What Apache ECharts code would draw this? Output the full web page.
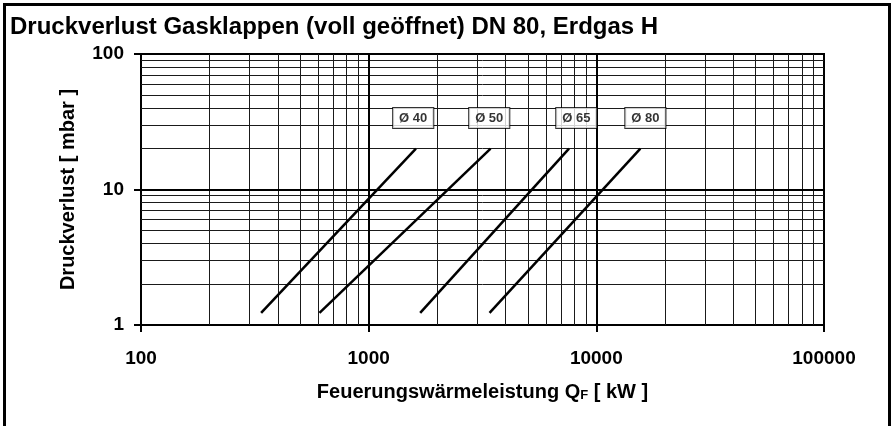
<!DOCTYPE html>
<html>
<head>
<meta charset="utf-8">
<script src="https://cdn.jsdelivr.net/npm/echarts@6/dist/echarts.min.js"></script>
<style>
html,body{margin:0;padding:0;background:#fff;}
#chart{width:891px;height:426px;}
</style>
</head>
<body>
<div id="chart"></div>
<script>
// ---- data ----
const diameters = ['Ø 40', 'Ø 50', 'Ø 65', 'Ø 80'];
const qStart = [337, 608, 1684, 3396];        // kW at the lower end of each line
const qEnd = [1613, 3432, 7586, 15610];       // kW at the upper end
const dpStart = [1.23, 1.23, 1.23, 1.23];     // mbar at the lower end
const dpEnd = [20, 20, 20, 20];               // mbar at the upper end
const labelQ = [1569, 3385, 8166, 16424];     // label anchor (kW)
const labelDp = [33.7, 33.7, 33.7, 33.7];     // label anchor (mbar)
const xTicks = [100, 1000, 10000, 100000];
const yTicks = [1, 10, 100];

// minor grid values (2..9 per decade)
function minors(ticks) {
  const out = [];
  for (let i = 0; i < ticks.length - 1; i++) {
    for (let k = 2; k <= 9; k++) out.push(ticks[i] * k);
  }
  return out;
}
const xMinor = minors(xTicks);
const yMinor = minors(yTicks);
const xMajorInner = xTicks.slice(1, -1);
const yMajorInner = yTicks.slice(1, -1);

const FONT = '"Liberation Sans", Arial, sans-serif';

const gridLines = {
  type: 'line',
  data: [],
  z: 1,
  silent: true,
  markLine: {
    silent: true,
    symbol: ['none', 'none'],
    label: { show: false },
    animation: false,
    data: [
      ...xMinor.map(v => ({ xAxis: v, lineStyle: { color: '#1a1a1a', width: 1, type: 'solid' } })),
      ...yMinor.map(v => ({ yAxis: v, lineStyle: { color: '#1a1a1a', width: 1, type: 'solid' } })),
      ...xMajorInner.map(v => ({ xAxis: v, lineStyle: { color: '#000', width: 2, type: 'solid' } })),
      ...yMajorInner.map(v => ({ yAxis: v, lineStyle: { color: '#000', width: 2, type: 'solid' } }))
    ]
  }
};

const lineSeries = diameters.map((d, i) => ({
  name: d,
  type: 'line',
  z: 5,
  symbol: 'none',
  animation: false,
  lineStyle: { color: '#000', width: 2.5 },
  data: [[qStart[i], dpStart[i]], [qEnd[i], dpEnd[i]]]
}));

const labelSeries = {
  type: 'scatter',
  z: 10,
  symbolSize: 0,
  animation: false,
  silent: true,
  data: diameters.map((d, i) => ({ name: d, value: [labelQ[i], labelDp[i]] })),
  label: {
    show: true,
    position: 'inside',
    formatter: p => p.name,
    fontFamily: FONT,
    fontWeight: 'bold',
    fontSize: 13,
    color: '#000',
    backgroundColor: '#fff',
    borderColor: '#000',
    borderWidth: 1,
    padding: [4, 6, 3, 6]
  }
};

const chart = echarts.init(document.getElementById('chart'), null, { renderer: 'canvas' });
chart.setOption({
  backgroundColor: '#fff',
  animation: false,
  textStyle: { fontFamily: FONT },
  title: {
    text: 'Druckverlust Gasklappen (voll geöffnet) DN 80, Erdgas H',
    left: 5,
    top: 10,
    textStyle: { fontFamily: FONT, fontWeight: 'bold', fontSize: 24, color: '#000' }
  },
  graphic: [{
    type: 'rect',
    shape: { x: 4.5, y: 4.5, width: 885, height: 440 },
    style: { fill: 'none', stroke: '#000', lineWidth: 3 },
    silent: true,
    z: 100
  }],
  grid: {
    left: 141, right: 67, top: 54, bottom: 101,
    show: true, borderColor: '#000', borderWidth: 2, backgroundColor: 'transparent'
  },
  xAxis: {
    type: 'log',
    logBase: 10,
    min: 100,
    max: 100000,
    name: '{a|Feuerungswärmeleistung Q}{s|F}{a| [ kW ]}',
    nameLocation: 'middle',
    nameGap: 57,
    nameTextStyle: {
      rich: {
        a: { fontFamily: FONT, fontWeight: 'bold', fontSize: 20, color: '#000' },
        s: { fontFamily: FONT, fontWeight: 'bold', fontSize: 13, color: '#000', verticalAlign: 'bottom', padding: [7, 0, 0, 0] }
      }
    },
    axisLine: { show: true, lineStyle: { color: '#000', width: 2 } },
    axisTick: { show: true, inside: false, length: 7, lineStyle: { color: '#000', width: 2 } },
    axisLabel: {
      margin: 24,
      fontFamily: FONT, fontWeight: 'bold', fontSize: 19, color: '#000',
      formatter: v => String(Math.round(v))
    },
    splitLine: { show: false },
    minorTick: { show: false },
    minorSplitLine: { show: false }
  },
  yAxis: {
    type: 'log',
    logBase: 10,
    min: 1,
    max: 100,
    name: 'Druckverlust [ mbar ]',
    nameLocation: 'middle',
    nameGap: 63,
    nameTextStyle: { fontFamily: FONT, fontWeight: 'bold', fontSize: 20, color: '#000' },
    axisLine: { show: true, lineStyle: { color: '#000', width: 2 } },
    axisTick: { show: true, inside: false, length: 7, lineStyle: { color: '#000', width: 2 } },
    axisLabel: {
      margin: 17,
      fontFamily: FONT, fontWeight: 'bold', fontSize: 19, color: '#000',
      formatter: v => String(Math.round(v))
    },
    splitLine: { show: false },
    minorTick: { show: false },
    minorSplitLine: { show: false }
  },
  series: [gridLines, ...lineSeries, labelSeries]
});
</script>
</body>
</html>
